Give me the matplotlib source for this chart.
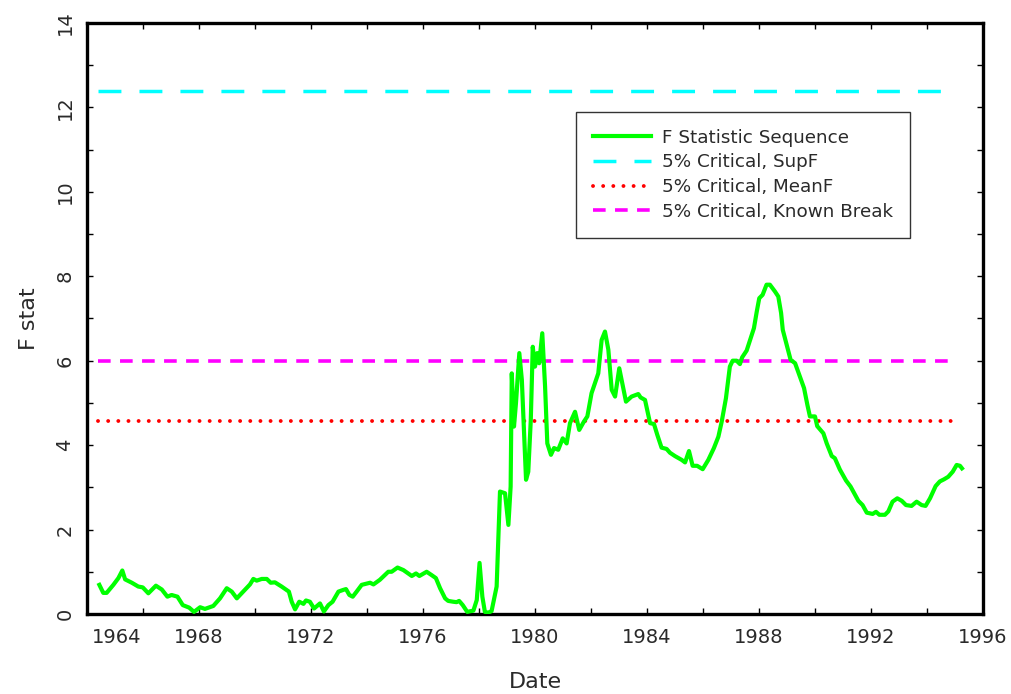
import matplotlib
matplotlib.use("Agg")
import matplotlib.pyplot as plt
import matplotlib.transforms as mtransforms

# F statistic sequence (date as decimal year, F value)
dates = [
    1964.44, 1964.58, 1964.70, 1964.94, 1965.12, 1965.26, 1965.36, 1965.60, 1965.83, 1965.99,
    1966.19, 1966.46, 1966.67, 1966.87, 1967.02, 1967.23, 1967.42, 1967.65, 1967.82, 1968.04,
    1968.21, 1968.51, 1968.75, 1968.99, 1969.17, 1969.35, 1969.58, 1969.82, 1969.94, 1970.06,
    1970.24, 1970.42, 1970.56, 1970.71, 1970.95, 1971.21, 1971.31, 1971.43, 1971.58, 1971.73,
    1971.82, 1971.96, 1972.11, 1972.32, 1972.46, 1972.62, 1972.77, 1972.98, 1973.15, 1973.25,
    1973.37, 1973.49, 1973.63, 1973.81, 1974.11, 1974.23, 1974.46, 1974.76, 1974.88, 1975.09,
    1975.30, 1975.60, 1975.75, 1975.87, 1976.13, 1976.31, 1976.46, 1976.61, 1976.79, 1976.90,
    1977.08, 1977.20, 1977.29, 1977.42, 1977.58, 1977.80, 1977.92, 1978.02, 1978.12, 1978.21,
    1978.33, 1978.45, 1978.63, 1978.75, 1978.93, 1979.05, 1979.13, 1979.17, 1979.25, 1979.32,
    1979.44, 1979.53, 1979.68, 1979.76, 1979.85, 1979.92, 1980.00, 1980.08, 1980.15, 1980.26,
    1980.36, 1980.44, 1980.57, 1980.68, 1980.83, 1980.99, 1981.13, 1981.25, 1981.43, 1981.58,
    1981.75, 1981.87, 1982.02, 1982.26, 1982.38, 1982.50, 1982.62, 1982.74, 1982.86, 1983.01,
    1983.25, 1983.45, 1983.69, 1983.77, 1983.93, 1984.11, 1984.25, 1984.37, 1984.52, 1984.70,
    1984.82, 1985.00, 1985.24, 1985.36, 1985.50, 1985.63, 1985.79, 1985.99, 1986.19, 1986.39,
    1986.55, 1986.67, 1986.82, 1986.96, 1987.06, 1987.20, 1987.32, 1987.40, 1987.56, 1987.70,
    1987.82, 1987.92, 1988.01, 1988.13, 1988.27, 1988.39, 1988.57, 1988.69, 1988.79, 1988.85,
    1988.96, 1989.13, 1989.29, 1989.44, 1989.61, 1989.73, 1989.82, 1990.00, 1990.08, 1990.30,
    1990.42, 1990.60, 1990.71, 1990.89, 1991.11, 1991.27, 1991.55, 1991.70, 1991.85, 1992.06,
    1992.18, 1992.30, 1992.50, 1992.62, 1992.77, 1992.94, 1993.10, 1993.25, 1993.45, 1993.63,
    1993.81, 1993.95, 1994.11, 1994.31, 1994.46, 1994.61, 1994.76, 1994.92, 1995.06, 1995.18,
    1995.25,
]
fstat = [
    0.69, 0.50, 0.50, 0.69, 0.85, 1.03, 0.82, 0.74, 0.65, 0.63,
    0.49, 0.67, 0.58, 0.41, 0.45, 0.41, 0.21, 0.15, 0.05, 0.16,
    0.12, 0.19, 0.37, 0.61, 0.53, 0.37, 0.53, 0.70, 0.83, 0.79,
    0.83, 0.83, 0.74, 0.75, 0.65, 0.53, 0.29, 0.11, 0.29, 0.24,
    0.32, 0.29, 0.13, 0.25, 0.06, 0.21, 0.29, 0.53, 0.57, 0.59,
    0.45, 0.41, 0.53, 0.69, 0.74, 0.70, 0.81, 1.00, 1.00, 1.10,
    1.04, 0.90, 0.96, 0.90, 1.00, 0.92, 0.85, 0.61, 0.37, 0.31,
    0.29, 0.28, 0.31, 0.21, 0.05, 0.08, 0.33, 1.21, 0.41, 0.05,
    0.03, 0.07, 0.65, 2.90, 2.86, 2.11, 3.02, 5.70, 4.44, 4.99,
    6.18, 5.55, 3.18, 3.37, 4.60, 6.33, 5.86, 6.18, 5.94, 6.65,
    5.39, 4.04, 3.77, 3.93, 3.89, 4.16, 4.04, 4.52, 4.79, 4.36,
    4.56, 4.68, 5.23, 5.70, 6.49, 6.69, 6.26, 5.31, 5.15, 5.82,
    5.03, 5.15, 5.21, 5.13, 5.07, 4.52, 4.50, 4.24, 3.94, 3.91,
    3.82, 3.74, 3.65, 3.59, 3.86, 3.51, 3.51, 3.43, 3.65, 3.93,
    4.20, 4.56, 5.11, 5.86, 6.00, 6.00, 5.92, 6.08, 6.24, 6.53,
    6.77, 7.16, 7.48, 7.56, 7.80, 7.80, 7.64, 7.52, 7.13, 6.73,
    6.45, 6.02, 5.94, 5.66, 5.35, 4.95, 4.68, 4.68, 4.45, 4.28,
    4.04, 3.74, 3.69, 3.42, 3.16, 3.02, 2.68, 2.58, 2.40, 2.37,
    2.42, 2.35, 2.35, 2.43, 2.66, 2.74, 2.68, 2.58, 2.56, 2.66,
    2.58, 2.56, 2.74, 3.03, 3.14, 3.19, 3.25, 3.37, 3.53, 3.51,
    3.45,
]

# 5% critical values and the span they are drawn over
crit_supf = 12.40
crit_meanf = 4.58
crit_known = 5.99
crit_span = (1964.39, 1995.02)

x_ticks = list(range(1964, 1997, 4))
x_minor = list(range(1964, 1997, 2))
y_ticks = list(range(0, 15, 2))
y_minor = list(range(0, 15))

text_col = "#2a2a2a"

fig = plt.figure(figsize=(10.12, 6.94), dpi=100)
ax = fig.add_axes([0.086, 0.1153, 0.8853, 0.8516])

ax.plot(dates, fstat, color="#00ff00", lw=3.0, solid_joinstyle="round",
        label="F Statistic Sequence", zorder=4)
ax.plot(crit_span, [crit_supf] * 2, color="#00ffff", lw=2.5,
        dashes=(6.6, 5.2), label="5% Critical, SupF", zorder=3)
ax.plot(crit_span, [crit_meanf] * 2, color="#ff0000", lw=2.8,
        dashes=(0.01, 2.6), dash_capstyle="round", label="5% Critical, MeanF", zorder=3)
ax.plot(crit_span, [crit_known] * 2, color="#ff00ff", lw=2.6,
        dashes=(3.5, 2.6), label="5% Critical, Known Break", zorder=3)

ax.set_xlim(1964, 1996)
ax.set_ylim(0, 14)
ax.set_xticks(x_ticks)
ax.set_xticks(x_minor, minor=True)
ax.set_yticks(y_ticks)
ax.set_yticks(y_minor, minor=True)
ax.set_xticklabels([str(t) for t in x_ticks])
ax.set_yticklabels([str(t) for t in y_ticks], rotation=90, va="center")

ax.tick_params(which="both", direction="in", length=4.3, width=1.0,
               top=True, right=True, colors="black", labelcolor=text_col,
               labelsize=14)
ax.tick_params(axis="x", pad=10)
ax.tick_params(axis="y", pad=9)
for sp in ax.spines.values():
    sp.set_linewidth(2.4)

# first date label sits just right of the left spine
first = ax.get_xticklabels()[0]
first.set_horizontalalignment("left")
first.set_transform(first.get_transform() +
                    mtransforms.ScaledTranslation(5 / 100, 0, fig.dpi_scale_trans))

ax.set_xlabel("Date", fontsize=16, color=text_col, labelpad=18)
ax.set_ylabel("F stat", fontsize=16, color=text_col, labelpad=12)

leg = ax.legend(loc="upper left", bbox_to_anchor=(575.7 / 1012, 1 - 112 / 694),
                bbox_transform=fig.transFigure, fontsize=13.2, frameon=True,
                fancybox=False, handlelength=3.2, handletextpad=0.6,
                borderpad=0.92, labelspacing=0.36, borderaxespad=0)
leg.get_frame().set_edgecolor("black")
leg.get_frame().set_linewidth(1.0)
for t in leg.get_texts():
    t.set_color(text_col)

fig.savefig("out.png", dpi=100)
